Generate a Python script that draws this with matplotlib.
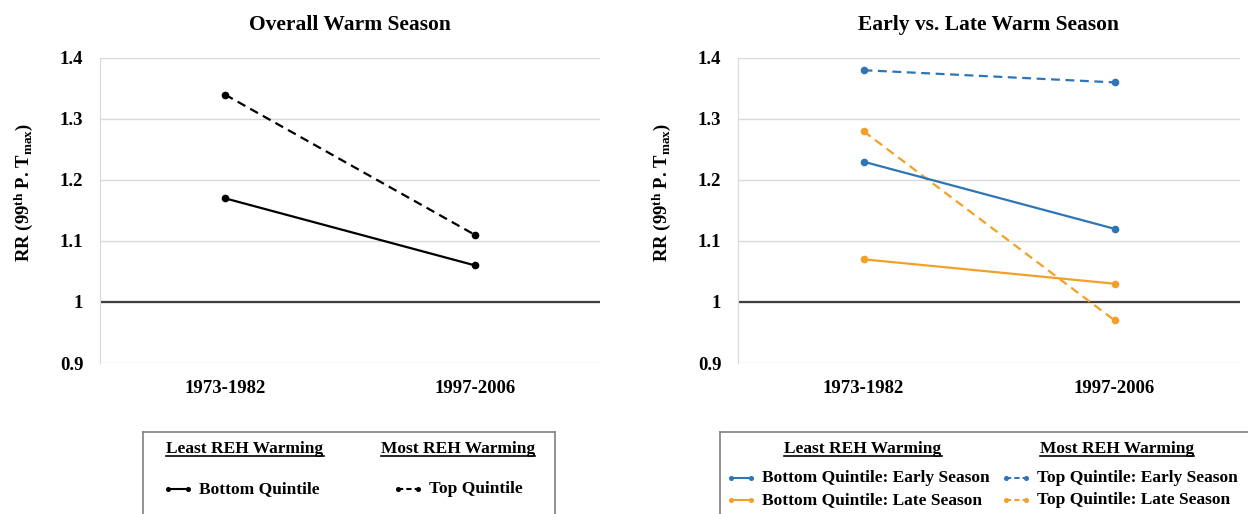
import numpy as np
import matplotlib
matplotlib.use("Agg")
import matplotlib.pyplot as plt

periods = ["1973-1982", "1997-2006"]

# Overall warm season
bottom_overall = [1.17, 1.06]
top_overall = [1.34, 1.11]

# Early vs. late warm season
bottom_early = [1.23, 1.12]
bottom_late = [1.07, 1.03]
top_early = [1.38, 1.36]
top_late = [1.28, 0.97]

yticks = [0.9, 1.0, 1.1, 1.2, 1.3, 1.4]
ytick_labels = ["0.9", "1", "1.1", "1.2", "1.3", "1.4"]

BLUE = "#2E75B6"
ORANGE = "#F2A02A"
GRID = "#D9D9D9"
DASH = (4, 2.5)

plt.rcParams['font.family'] = ['Liberation Serif', 'DejaVu Serif']
plt.rcParams['font.weight'] = 'bold'
plt.rcParams['axes.labelweight'] = 'bold'
plt.rcParams['mathtext.fontset'] = 'custom'
plt.rcParams['mathtext.rm'] = 'Liberation Serif:bold'
plt.rcParams['mathtext.bf'] = 'Liberation Serif:bold'
plt.rcParams['mathtext.it'] = 'Liberation Serif:bold:italic'

W, H = 1248, 514
fig = plt.figure(figsize=(W / 100, H / 100), dpi=100)


# axes placed by pixel box (top-left origin)
def px_axes(x0, y0, x1, y1):
    return fig.add_axes([x0 / W, 1 - y1 / H, (x1 - x0) / W, (y1 - y0) / H])


def style_panel(ax, title):
    x = np.arange(len(periods))
    ax.set_xlim(-0.5, len(periods) - 0.5)
    ax.set_ylim(0.9, 1.4)
    ax.set_yticks(yticks)
    ax.set_yticklabels(ytick_labels)
    ax.set_xticks(x)
    ax.set_xticklabels(periods)
    ax.tick_params(length=0, labelsize=13.5, pad=12)
    ax.grid(axis='y', color=GRID, lw=1)
    ax.set_axisbelow(True)
    for s in ['top', 'right', 'bottom']:
        ax.spines[s].set_visible(False)
    ax.spines['left'].set_color(GRID)
    ax.axhline(1.0, color='#404040', lw=1.6, zorder=1.5)
    ax.set_ylabel(r"RR (99$^{\rm th}$ P. T$_{\rm max}$)", fontsize=13.5,
                  fontweight='bold')
    ax.yaxis.set_label_coords(-0.13, 0.56)
    ax.set_title(title, fontsize=15.5, fontweight='bold', pad=20)
    return x


def draw_series(ax, x, vals, color, dashed):
    line, = ax.plot(x, vals, color=color, lw=1.6, marker='o', ms=4.5, zorder=3)
    if dashed:
        line.set_dashes(DASH)


ax1 = px_axes(100, 58, 600, 363)
x = style_panel(ax1, "Overall Warm Season")
draw_series(ax1, x, bottom_overall, 'black', False)
draw_series(ax1, x, top_overall, 'black', True)

ax2 = px_axes(738, 58, 1240, 363)
x = style_panel(ax2, "Early vs. Late Warm Season")
draw_series(ax2, x, top_early, BLUE, True)
draw_series(ax2, x, top_late, ORANGE, True)
draw_series(ax2, x, bottom_early, BLUE, False)
draw_series(ax2, x, bottom_late, ORANGE, False)

headers = []


def legend_box(x0, x1, head, entries):
    lax = px_axes(x0, 432, x1, 540)
    lax.set_xlim(x0, x1)
    lax.set_ylim(540, 432)
    lax.set_xticks([])
    lax.set_yticks([])
    for s in lax.spines.values():
        s.set_color('#808080')
        s.set_linewidth(1.2)
    for xc, txt in head:
        t = lax.text(xc, 449, txt, ha='center', va='center', fontsize=12.5)
        headers.append((lax, t))
    for lx, y, color, dashed, label in entries:
        ln, = lax.plot([lx, lx + 20], [y, y], color=color, lw=1.5, marker='o', ms=2.6)
        if dashed:
            ln.set_dashes((2.5, 1.5))
        lax.text(lx + 31, y, label, ha='left', va='center', fontsize=12.5)


legend_box(143, 555,
           [(245, "Least REH Warming"), (458, "Most REH Warming")],
           [(168, 489, 'black', False, "Bottom Quintile"),
            (398, 489, 'black', True, "Top Quintile")])

legend_box(720, 1252,
           [(863, "Least REH Warming"), (1117, "Most REH Warming")],
           [(731, 478, BLUE, False, "Bottom Quintile: Early Season"),
            (1006, 478, BLUE, True, "Top Quintile: Early Season"),
            (731, 500, ORANGE, False, "Bottom Quintile: Late Season"),
            (1006, 500, ORANGE, True, "Top Quintile: Late Season")])

# underline the legend headers
fig.canvas.draw()
renderer = fig.canvas.get_renderer()
for lax, t in headers:
    bb = t.get_window_extent(renderer).transformed(lax.transData.inverted())
    y = max(bb.y0, bb.y1) - 1
    lax.plot([bb.x0, bb.x1], [y, y], color='black', lw=1.2)

fig.savefig("out.png", dpi=100)
